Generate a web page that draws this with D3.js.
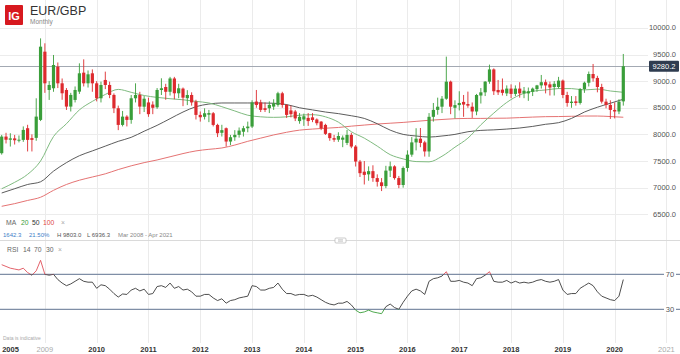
<!DOCTYPE html>
<html lang="en">
<head>
<meta charset="utf-8">
<title>EUR/GBP monthly</title>
<script src="https://cdn.jsdelivr.net/npm/d3@7"></script>
<style>
  body{margin:0;background:#fff;font-family:"Liberation Sans",Arial,sans-serif;}
  svg text{font-family:"Liberation Sans",Arial,sans-serif;}
</style>
</head>
<body>
<svg id="chart" width="680" height="354"></svg>
<script>
// monthly candles, Mar 2008 .. Mar 2020 (prices x10000)
var opens = [
  7647,7959,7900,7925,7890,7897,8116,7930,7935,8272,
  9553,8834,8866,9272,8959,8834,8522,8647,8803,9159,8959,9147,
  8959,8678,9022,8928,8741,8491,8178,8334,8272,8678,8741,8520,
  8600,8560,8509,8834,8890,8800,9050,8772,8860,8680,8740,8616,
  8366,8330,8370,8397,8178,8030,8116,7866,7947,7991,8050,8116,
  8147,8616,8600,8491,8491,8522,8553,8772,8553,8450,8430,8250,
  8280,8310,8320,8280,8240,8178,8022,7930,7900,7900,7840,7990,
  7772,7490,7300,7250,7310,7180,7100,7030,7320,7400,7180,7050,
  7370,7620,7850,7920,7850,7680,8330,8460,8520,8670,8990,8500,
  8550,8610,8570,8520,8430,8730,8790,8990,9220,8834,8840,8770,
  8860,8760,8860,8770,8770,8800,8850,8920,8980,8940,8890,8890,
  9010,8740,8590,8620,8590,8850,8970,9134,9060,8890,8615,8553,
  8460,8430,8620]
var highs = [
  7990,8030,8022,7990,7980,8150,8180,8000,8678,9803,
  9710,9000,9491,9350,9050,8870,8780,8900,9334,9409,9200,9220,
  9000,8990,9178,8990,8770,8540,8440,8360,8740,8959,8800,8720,
  8690,8620,8870,9053,8950,9080,9080,8950,8880,8830,8790,8650,
  8430,8490,8460,8420,8200,8180,8130,7990,8080,8130,8160,8240,
  8640,8834,8650,8600,8620,8660,8800,8800,8570,8540,8460,8400,
  8390,8400,8400,8300,8250,8200,8030,7990,8040,7980,8084,8030,
  7800,7520,7500,7400,7420,7250,7180,7410,7490,7420,7220,7400,
  7700,7950,8116,8120,7880,8400,8590,8690,8720,9460,9010,8640,
  8810,8740,8803,8600,8760,8870,9000,9310,9240,9022,9050,8920,
  8940,8920,8980,8890,8880,8880,8930,9116,9030,8990,9000,9080,
  9030,8800,8720,8720,8870,8990,9180,9322,9100,8950,8670,8640,
  8600,8660,9510]
var lows = [
  7620,7830,7772,7810,7850,7860,7680,7680,7880,8250,
  8780,8647,8800,8870,8650,8459,8430,8600,8760,8900,8880,8800,
  8620,8600,8850,8680,8400,8080,8150,8150,8200,8600,8380,8420,
  8330,8380,8480,8740,8650,8730,8660,8680,8530,8550,8540,8280,
  8240,8280,8230,8150,7950,7960,7772,7800,7880,7940,7960,8040,
  8120,8500,8420,8420,8400,8460,8520,8500,8310,8320,8250,8200,
  8160,8160,8230,8170,8080,7990,7880,7860,7860,7760,7800,7740,
  7397,7200,7060,7130,7110,7020,6936,6990,7200,7150,6990,7000,
  7300,7580,7700,7760,7584,7580,8240,8370,8400,8650,8380,8300,
  8450,8330,8500,8310,8360,8580,8720,8950,8740,8740,8730,8720,
  8680,8720,8690,8680,8630,8720,8800,8860,8770,8730,8730,8860,
  8680,8520,8500,8540,8560,8780,8900,8990,8790,8580,8490,8290,
  8300,8380,8540]
var closes = [
  7959,7900,7925,7890,7900,8084,7897,7897,8334,9647,
  8959,8928,9303,8959,8772,8522,8741,8834,9147,8959,9128,8959,
  8678,8928,8928,8740,8491,8178,8334,8272,8678,8741,8522,8670,
  8380,8500,8834,8866,8800,9050,8772,8866,8690,8740,8600,8366,
  8322,8397,8400,8178,8022,8080,7866,7947,7991,8072,8116,8147,
  8600,8553,8460,8459,8553,8584,8772,8553,8366,8380,8300,8330,
  8340,8250,8270,8210,8116,8010,7930,7900,7970,7940,7990,7772,
  7490,7272,7240,7310,7180,7110,7030,7320,7400,7180,7050,7370,
  7620,7850,7920,7840,7680,8330,8460,8520,8670,8990,8520,8550,
  8590,8560,8540,8430,8740,8790,8990,9220,8810,8790,8780,8860,
  8760,8860,8770,8820,8810,8860,8920,8980,8920,8880,8950,9010,
  8740,8590,8615,8590,8850,8970,9134,9053,8890,8615,8553,8460,
  8430,8615,9280.2]

// moving averages, read every third month (index into the candles)
var maIdx = d3.range(0, 145, 3)
var ma20 = [6980,7100,7250,7500,7960,8200,8460,8620,8750,8845,
  8790,8730,8695,8670,8650,8620,8590,8520,8440,8360,
  8330,8320,8330,8360,8370,8330,8230,8050,7930,7780,
  7620,7540,7490,7485,7590,7760,7930,8180,8400,8600,
  8740,8810,8834,8860,8860,8835,8850,8815,8790]
var ma50 = [6900,6980,7060,7110,7310,7470,7600,7690,7780,7870,
  7945,8060,8170,8295,8420,8520,8570,8590,8590,8590,
  8590,8585,8560,8500,8460,8420,8390,8350,8300,8200,
  8080,8000,7970,7950,7970,8000,8050,8075,8085,8100,
  8120,8150,8190,8220,8300,8420,8510,8585,8660]
var ma100 = [6650,6700,6760,6820,6950,7060,7140,7200,7260,7340,
  7410,7470,7520,7580,7640,7690,7720,7745,7800,7870,
  7930,7990,8040,8080,8100,8116,8130,8155,8175,8195,
  8210,8225,8245,8265,8280,8295,8300,8300,8303,8305,
  8315,8325,8333,8335,8340,8345,8345,8335,8322]

// RSI 14, one value per month
var rsi = [81,79,77,76,75,77,72,69,74,86,70,69,70,64,60,57,59,62,65,62,
  61,61,54,58,57,53,48,44,47.5,47,52,54,
  51,53,47,48,56,57,55,60,54,56,52,53,50,45,45,47,47,43,40,42,
  37,40,41,43,44,45,57,56,52,52,54,55,
  60,53,48,48,46,47,47,45,46,44,41,38,36,35,37,37,39,35,29,26,
  27,29,27,26,25,33,36,32,30,38,45,51,
  53,51,47,62,65,66,68,73,62,62,63,61,60,57,65,66,69,73,62,61,
  61,63,60,62,60,61,60,61,63,64,62,61,
  62,64,52,47,48,48,54,57,60,57,50,45,43,41,40,45,64]

var priceTicks = [6500,7000,7500,8000,8500,9000,9500,10000]
var yearLabels = ["2005","2009","2010","2011","2012","2013","2014","2015","2016","2017","2018","2019","2020","2021"]
var yearIdx = [2,10,22,34,46,58,70,82,94,106,118,130,142,154]
var lastPrice = 9280.2

var svg = d3.select("#chart")
var x = d3.scaleLinear().domain([0,144]).range([1.7,623.3])
var y = d3.scaleLinear().domain([6500,9500]).range([214.3,54.5])
var yr = d3.scaleLinear().domain([30,70]).range([309.3,274.3])

var up = "#3a9e3a", down = "#dd2a2e"

// grid
svg.append("g").selectAll("line").data(yearIdx.slice(1)).enter().append("line")
  .attr("x1",function(d){return Math.round(x(d))+0.5}).attr("x2",function(d){return Math.round(x(d))+0.5})
  .attr("y1",0).attr("y2",343).attr("stroke","#ebebeb")
svg.append("g").selectAll("line").data(priceTicks).enter().append("line")
  .attr("x1",0).attr("x2",648)
  .attr("y1",function(d){return Math.round(y(d))+0.5}).attr("y2",function(d){return Math.round(y(d))+0.5})
  .attr("stroke","#ececec")

// last price line
svg.append("line").attr("x1",0).attr("x2",650)
  .attr("y1",Math.round(y(lastPrice))+0.5).attr("y2",Math.round(y(lastPrice))+0.5)
  .attr("stroke","#a3a9b3")

// moving averages
function maLine(vals){
  return d3.line().x(function(d,i){return x(maIdx[i])}).y(function(d){return y(d)}).curve(d3.curveMonotoneX)(vals)
}
svg.append("path").attr("d",maLine(ma100)).attr("fill","none").attr("stroke","#e57373").attr("stroke-width",1)
svg.append("path").attr("d",maLine(ma50)).attr("fill","none").attr("stroke","#4a4a4a").attr("stroke-width",0.9)
svg.append("path").attr("d",maLine(ma20)).attr("fill","none").attr("stroke","#80bb80").attr("stroke-width",1)

// candles
var cg = svg.append("g").selectAll("g").data(closes).enter().append("g")
cg.append("line")
  .attr("x1",function(d,i){return x(i)}).attr("x2",function(d,i){return x(i)})
  .attr("y1",function(d,i){return y(highs[i])}).attr("y2",function(d,i){return y(lows[i])})
  .attr("stroke",function(d,i){return d>=opens[i]?up:down}).attr("stroke-width",0.9)
cg.append("rect")
  .attr("x",function(d,i){return x(i)-1.6}).attr("width",3.2)
  .attr("y",function(d,i){return y(Math.max(d,opens[i]))})
  .attr("height",function(d,i){return Math.max(1,Math.abs(y(d)-y(opens[i])))})
  .attr("fill",function(d,i){return d>=opens[i]?up:down})

// price axis labels
svg.append("g").selectAll("text").data(priceTicks).enter().append("text")
  .attr("x",676).attr("y",function(d){return y(d)+2.5}).attr("text-anchor","end")
  .attr("font-size",7.5).attr("fill","#555").text(function(d){return d3.format(".1f")(d)})

// last price tag
svg.append("rect").attr("x",649).attr("y",y(lastPrice)-5.5).attr("width",30).attr("height",11)
  .attr("fill","#2f3c50").attr("rx",1)
svg.append("text").attr("x",664).attr("y",y(lastPrice)+2.6).attr("text-anchor","middle")
  .attr("font-size",7.5).attr("fill","#fff").text(d3.format(".1f")(lastPrice))

// header
svg.append("rect").attr("x",5).attr("y",5).attr("width",18).attr("height",20).attr("fill","#d7191f").attr("rx",1)
svg.append("text").attr("x",14).attr("y",19.5).attr("text-anchor","middle").attr("font-size",11)
  .attr("font-weight","bold").attr("fill","#fff").text("IG")
svg.append("text").attr("x",30).attr("y",15).attr("font-size",12.5).attr("fill","#333").text("EUR/GBP")
svg.append("text").attr("x",30).attr("y",23.5).attr("font-size",6.5).attr("fill","#888").text("Monthly")

// MA legend
var leg = svg.append("g").attr("font-size",6.8)
leg.append("text").attr("x",6).attr("y",224.5).attr("fill","#666").text("MA")
leg.append("text").attr("x",21).attr("y",224.5).attr("fill","#3a9e3a").text("20")
leg.append("text").attr("x",32).attr("y",224.5).attr("fill","#333").text("50")
leg.append("text").attr("x",43).attr("y",224.5).attr("fill","#e04848").text("100")
leg.append("text").attr("x",61).attr("y",224.5).attr("fill","#aaa").text("\u00d7")
var leg2 = svg.append("g").attr("font-size",6)
leg2.append("text").attr("x",3).attr("y",237).attr("fill","#3d7ec8").text("1642.3")
leg2.append("text").attr("x",29).attr("y",237).attr("fill","#3d7ec8").text("21.50%")
leg2.append("text").attr("x",57).attr("y",237).attr("fill","#555").text("H 9803.0")
leg2.append("text").attr("x",87).attr("y",237).attr("fill","#555").text("L 6936.3")
leg2.append("text").attr("x",118).attr("y",237).attr("fill","#888").text("Mar 2008 - Apr 2021")

// panel separator
svg.append("line").attr("x1",0).attr("x2",680).attr("y1",240.5).attr("y2",240.5).attr("stroke","#dadada")
svg.append("rect").attr("x",335).attr("y",238).attr("width",11).attr("height",5).attr("rx",1)
  .attr("fill","#fff").attr("stroke","#b5b5b5").attr("stroke-width",0.7)
svg.append("line").attr("x1",338).attr("x2",343).attr("y1",239.8).attr("y2",239.8).attr("stroke","#999").attr("stroke-width",0.5)
svg.append("line").attr("x1",338).attr("x2",343).attr("y1",241.2).attr("y2",241.2).attr("stroke","#999").attr("stroke-width",0.5)

// RSI panel
var rsiLevels = [70,30]
svg.append("g").selectAll("line").data(rsiLevels).enter().append("line")
  .attr("x1",0).attr("x2",680)
  .attr("y1",function(d){return yr(d)}).attr("y2",function(d){return yr(d)})
  .attr("stroke","#7f8ea6").attr("stroke-width",1.2)

var defs = svg.append("defs")
defs.append("clipPath").attr("id","clipHi").append("rect").attr("x",0).attr("y",0).attr("width",680).attr("height",yr(70))
defs.append("clipPath").attr("id","clipMid").append("rect").attr("x",0).attr("y",yr(70)).attr("width",680).attr("height",yr(30)-yr(70))
defs.append("clipPath").attr("id","clipLo").append("rect").attr("x",0).attr("y",yr(30)).attr("width",680).attr("height",60)
var rsiPath = d3.line().x(function(d,i){return x(i)}).y(function(d){return yr(d)})(rsi)
svg.append("path").attr("d",rsiPath).attr("fill","none").attr("stroke","#3a3a3a").attr("stroke-width",0.9).attr("clip-path","url(#clipMid)")
svg.append("path").attr("d",rsiPath).attr("fill","none").attr("stroke","#e0505a").attr("stroke-width",0.9).attr("clip-path","url(#clipHi)")
svg.append("path").attr("d",rsiPath).attr("fill","none").attr("stroke","#3a9e3a").attr("stroke-width",0.9).attr("clip-path","url(#clipLo)")

svg.append("g").selectAll("g").data(rsiLevels).enter().append("g").each(function(d){
  var g = d3.select(this)
  g.append("rect").attr("x",664).attr("y",yr(d)-4).attr("width",12).attr("height",8).attr("fill","#fff")
  g.append("text").attr("x",670).attr("y",yr(d)+2.5).attr("text-anchor","middle").attr("font-size",7.5).attr("fill","#555").text(d)
})

var rl = svg.append("g").attr("font-size",6.8).attr("fill","#666")
rl.append("text").attr("x",7).attr("y",252).text("RSI")
rl.append("text").attr("x",23).attr("y",252).text("14")
rl.append("text").attr("x",34).attr("y",252).text("70")
rl.append("text").attr("x",46).attr("y",252).text("30")
rl.append("text").attr("x",58).attr("y",252).attr("fill","#aaa").text("\u00d7")

svg.append("text").attr("x",3).attr("y",340).attr("font-size",5).attr("fill","#aaa").text("Data is indicative")

// year axis
svg.append("g").selectAll("text").data(yearLabels).enter().append("text")
  .attr("x",function(d,i){return i==0 ? 10.5 : x(yearIdx[i])})
  .attr("y",351.5).attr("text-anchor","middle").attr("font-size",7.5)
  .attr("font-weight",function(d,i){return (i==1||i==yearLabels.length-1)?"normal":"bold"})
  .attr("fill",function(d,i){return (i==1||i==yearLabels.length-1)?"#aaa":"#333"})
  .text(function(d){return d})
</script>
</body>
</html>
